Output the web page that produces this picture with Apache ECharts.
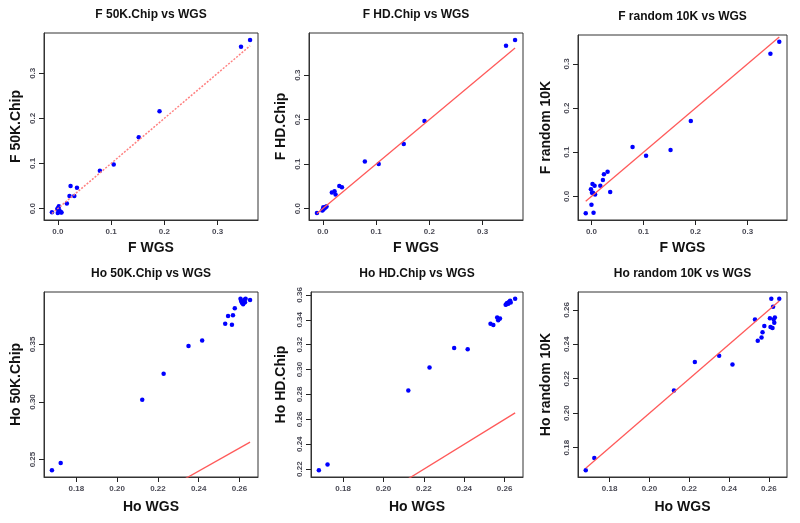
<!DOCTYPE html>
<html><head><meta charset="utf-8">
<script src="https://cdn.jsdelivr.net/npm/echarts@6/dist/echarts.min.js"></script>
<style>html,body{margin:0;padding:0;background:#fff}#c{width:800px;height:523px}</style>
</head><body><div id="c"></div>
<script>
// ---- data ----
const fWGS   = [0.361, 0.344, 0.191, 0.152, 0.105, 0.079, 0.036, 0.031, 0.024, 0.022, 0.017, 0.006, 0.004, 0.002, 0.000, -0.001, 0.003, 0.007, 0.001, -0.011];
const f50K   = [0.374, 0.359, 0.216, 0.158, 0.098, 0.084, 0.046, 0.028, 0.050, 0.028, 0.011, -0.008, -0.007, 0.005, -0.010, -0.001, -0.004, -0.009, 0.002, -0.008];
const fHD    = [0.379, 0.366, 0.197, 0.145, 0.100, 0.106, 0.048, 0.051, 0.032, 0.039, 0.036, 0.004, 0.002, 0.001, -0.003, -0.004, 0.000, 0.005, 0.003, -0.010];
const fRand  = [0.350, 0.323, 0.171, 0.105, 0.092, 0.112, 0.010, 0.056, 0.050, 0.037, 0.024, 0.024, -0.037, 0.028, -0.019, 0.016, 0.008, 0.004, 0.008, -0.038];
const hoWGS  = [0.1680, 0.1723, 0.2123, 0.2228, 0.2350, 0.2417, 0.2530, 0.2544, 0.2563, 0.2568, 0.2577, 0.2605, 0.2608, 0.2612, 0.2618, 0.2621, 0.2624, 0.2627, 0.2630, 0.2652];
const ho50K  = [0.2408, 0.2471, 0.3020, 0.3246, 0.3486, 0.3535, 0.3680, 0.3746, 0.3670, 0.3754, 0.3815, 0.3896, 0.3878, 0.3862, 0.3850, 0.3873, 0.3888, 0.3867, 0.3896, 0.3887];
const hoHD   = [0.2192, 0.2237, 0.2832, 0.3016, 0.3173, 0.3163, 0.3368, 0.3357, 0.3419, 0.3397, 0.3410, 0.3520, 0.3525, 0.3535, 0.3528, 0.3540, 0.3545, 0.3552, 0.3538, 0.3568];
const hoRand = [0.1669, 0.1740, 0.2132, 0.2297, 0.2333, 0.2283, 0.2544, 0.2420, 0.2440, 0.2470, 0.2507, 0.2552, 0.2500, 0.2664, 0.2494, 0.2618, 0.2544, 0.2525, 0.2555, 0.2664];

const fTicks       = [0.0, 0.1, 0.2, 0.3];
const hoXTicks     = [0.18, 0.20, 0.22, 0.24, 0.26];
const ho50KTicks   = [0.25, 0.30, 0.35];
const hoHDTicks    = [0.22, 0.24, 0.26, 0.28, 0.30, 0.32, 0.34, 0.36];
const hoRandTicks  = [0.18, 0.20, 0.22, 0.24, 0.26];

const titles = ['F 50K.Chip vs WGS', 'F HD.Chip vs WGS', 'F random 10K vs WGS', 'Ho 50K.Chip vs WGS', 'Ho HD.Chip vs WGS', 'Ho random 10K vs WGS'];
const xNames = ['F WGS', 'F WGS', 'F WGS', 'Ho WGS', 'Ho WGS', 'Ho WGS'];
const yNames = ['F 50K.Chip', 'F HD.Chip', 'F random 10K', 'Ho 50K.Chip', 'Ho HD.Chip', 'Ho random 10K'];

// ---- layout ----
const panels = [
  {x: fWGS, y: f50K, xt: fTicks, yt: fTicks, xd: 1, yd: 1, box: [44, 33, 258, 220], yGap: 21, xGap: 21, dotted: true},
  {x: fWGS, y: fHD, xt: fTicks, yt: fTicks, xd: 1, yd: 1, box: [309, 33, 523, 220], yGap: 21, xGap: 21},
  {x: fWGS, y: fRand, xt: fTicks, yt: fTicks, xd: 1, yd: 1, box: [578, 35, 787, 220], yGap: 25, xGap: 21},
  {x: hoWGS, y: ho50K, xt: hoXTicks, yt: ho50KTicks, xd: 2, yd: 2, box: [44, 292, 258, 477], yGap: 21, xGap: 23},
  {x: hoWGS, y: hoHD, xt: hoXTicks, yt: hoHDTicks, xd: 2, yd: 2, box: [311, 292, 523, 477], yGap: 23, xGap: 23},
  {x: hoWGS, y: hoRand, xt: hoXTicks, yt: hoRandTicks, xd: 2, yd: 2, box: [578, 292, 787, 477], yGap: 25, xGap: 23}
];

function rng(a) {
  const mn = Math.min(...a), mx = Math.max(...a), r = mx - mn;
  return [mn - 0.04 * r, mx + 0.04 * r];
}

const FONT = '"Liberation Sans", Arial, sans-serif';
const option = {
  backgroundColor: '#fff',
  animation: false,
  title: [], grid: [], xAxis: [], yAxis: [], series: []
};

panels.forEach((p, i) => {
  const [l, t, r, b] = p.box;
  const xr = rng(p.x), yr = rng(p.y);
  option.grid.push({left: l, top: t, width: r - l, height: b - t, show: true, borderColor: '#333', borderWidth: 1});
  option.title.push({
    text: titles[i], left: (l + r) / 2, top: t - 24, textAlign: 'center', padding: 0,
    textStyle: {fontFamily: FONT, fontSize: 12, fontWeight: 'bold', color: '#111'}
  });
  const axisCommon = (ticks, dec) => ({
    type: 'value',
    axisLine: {show: true, onZero: false, lineStyle: {color: '#333', width: 1}},
    splitLine: {show: false},
    axisTick: {show: true, length: 5, customValues: ticks.slice(), lineStyle: {color: '#222', width: 1}},
    axisLabel: {show: true, customValues: ticks.slice(), fontFamily: FONT, fontSize: 8, fontWeight: 'bold', color: '#4a4a55',
      formatter: v => Number(v).toFixed(dec)},
    nameLocation: 'middle',
    nameTextStyle: {fontFamily: FONT, fontSize: 14, fontWeight: 'bold', color: '#111'}
  });
  const xa = axisCommon(p.xt, p.xd);
  xa.gridIndex = i; xa.position = 'bottom'; xa.min = xr[0]; xa.max = xr[1]; xa.name = xNames[i]; xa.nameGap = p.xGap;
  xa.axisLabel.margin = 8;
  option.xAxis.push(xa);
  const ya = axisCommon(p.yt, p.yd);
  ya.gridIndex = i; ya.position = 'left'; ya.min = yr[0]; ya.max = yr[1]; ya.name = yNames[i]; ya.nameGap = p.yGap;
  ya.axisLabel.rotate = 90; ya.axisLabel.margin = 7;
  option.yAxis.push(ya);

  const xmin = Math.min(...p.x), xmax = Math.max(...p.x);
  option.series.push({
    type: 'line', xAxisIndex: i, yAxisIndex: i, clip: true, symbol: 'none', silent: true,
    data: [[xmin, xmin], [xmax, xmax]],
    lineStyle: p.dotted ? {color: '#ff8080', width: 1.5, type: [2, 1.5]} : {color: '#ff5a5a', width: 1.3}
  });
  option.series.push({
    type: 'scatter', xAxisIndex: i, yAxisIndex: i, symbol: 'circle', symbolSize: 4.5,
    itemStyle: {color: '#0000ff', opacity: 1},
    data: p.x.map((v, k) => [v, p.y[k]])
  });
});

const chart = echarts.init(document.getElementById('c'), null, {renderer: 'canvas'});
chart.setOption(option);
</script>
</body></html>
